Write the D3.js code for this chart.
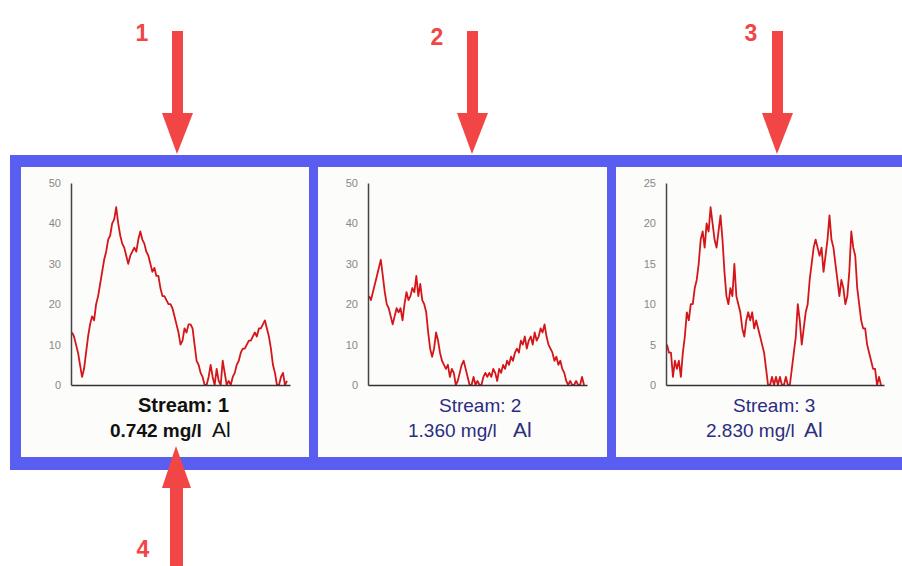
<!DOCTYPE html>
<html>
<head>
<meta charset="utf-8">
<script src="https://cdn.jsdelivr.net/npm/d3@7"></script>
<style>
  body { margin: 0; background: #fff; }
  svg { display: block; font-family: "Liberation Sans", Arial, sans-serif; }
</style>
</head>
<body>
<div id="viz"></div>
<script>
const width = 902;
const height = 566;

// Panel titles and readings
const streams = ['Stream: 1', 'Stream: 2', 'Stream: 3'];
const readings = ['0.742 mg/l', '1.360 mg/l', '2.830 mg/l'];
const yMax = [50, 50, 25];
const yTicks = [[0, 10, 20, 30, 40, 50], [0, 10, 20, 30, 40, 50], [0, 5, 10, 15, 20, 25]];
const arrowLabels = ['1', '2', '3', '4'];

// Traces
const stream1 = [13, 12, 10, 8, 5, 2, 4, 8, 12, 15, 17, 16, 20, 22, 25, 28, 31, 33, 36, 37,
  40, 41, 44, 40, 37, 35, 34, 32, 30, 32, 33, 34, 33, 36, 38, 36, 35, 33, 32, 30,
  28, 29, 27, 27, 24, 22, 22, 21, 20, 20, 19, 17, 15, 13, 10, 11, 14, 13, 15, 15,
  14, 10, 6, 5, 3, 2, 0, 0, 2, 5, 2, 0, 4, 1, 0, 6, 3, 0, 1, 0,
  2, 3, 5, 6, 8, 9, 9, 10, 11, 11, 12, 13, 12, 14, 14, 15, 16, 14, 12, 9,
  5, 3, 0, 0, 2, 3, 0, 1];
const stream2 = [22, 21, 23, 25, 27, 29, 31, 27, 23, 20, 19, 17, 15, 17, 19, 18, 19, 16, 20, 23,
  21, 22, 24, 23, 27, 22, 25, 21, 20, 18, 13, 9, 7, 9, 13, 11, 8, 6, 5, 4,
  5, 2, 4, 3, 0, 1, 3, 5, 6, 4, 2, 0, 0, 2, 0, 1, 0, 0, 2, 3,
  2, 3, 2, 4, 3, 1, 4, 3, 5, 4, 6, 5, 7, 6, 8, 9, 8, 11, 10, 12,
  9, 11, 12, 10, 13, 11, 12, 14, 13, 15, 12, 10, 9, 8, 6, 7, 5, 6, 4, 3,
  1, 0, 1, 0, 0, 1, 0, 0, 2, 0];
const stream3 = [5, 4, 4, 1, 3, 2, 3, 1, 4, 6, 9, 8, 10, 10, 12, 13, 15, 18, 19, 17,
  20, 19, 22, 20, 18, 17, 19, 21, 18, 14, 11, 10, 12, 11, 15, 11, 10, 9, 7, 6,
  8, 9, 8, 9, 7, 8, 7, 6, 5, 4, 2, 0, 0, 1, 0, 1, 0, 1, 0, 0,
  1, 0, 0, 2, 4, 6, 10, 8, 5, 7, 9, 10, 13, 15, 17, 18, 17, 16, 17, 14,
  16, 18, 21, 18, 17, 15, 13, 11, 13, 12, 10, 11, 14, 19, 17, 16, 12, 10, 8, 7,
  7, 5, 4, 3, 2, 2, 0, 1, 0];
const series = [stream1, stream2, stream3];

const blue = '#5a5ef0';
const red = '#f24545';
const lineRed = '#d4161a';

// panel layout: box, axis, caption start positions
const panels = [
  { x0: 21, x1: 309, axisX: 71, endX: 290, bold: true, color: '#111', sx: 138, rx: 110, ax: 212 },
  { x0: 318, x1: 607, axisX: 368, endX: 587, bold: false, color: '#2c2c80', sx: 439, rx: 408, ax: 513 },
  { x0: 616, x1: 910, axisX: 666, endX: 884, bold: false, color: '#2c2c80', sx: 733, rx: 706, ax: 804 }
];
const plotTop = 183;
const plotBottom = 385;

const svg = d3.select('#viz')
  .append('svg')
    .attr('width', width)
    .attr('height', height)
    .attr('viewBox', [0, 0, width, height]);

// blue frame
svg.append('rect')
  .attr('x', 10).attr('y', 155)
  .attr('width', 900).attr('height', 315)
  .attr('fill', blue);

panels.forEach((p, k) => {
  svg.append('rect')
    .attr('x', p.x0).attr('y', 167)
    .attr('width', p.x1 - p.x0).attr('height', 290)
    .attr('fill', '#fcfcfa');

  const data = series[k];
  const x = d3.scaleLinear()
    .domain([0, data.length - 1])
    .range([p.axisX + 1, p.endX - 3]);
  const y = d3.scaleLinear()
    .domain([0, yMax[k]])
    .range([plotBottom, plotTop]);

  const g = svg.append('g');

  // trace
  g.append('path')
    .datum(data)
    .attr('fill', 'none')
    .attr('stroke', lineRed)
    .attr('stroke-width', 1.8)
    .attr('stroke-linejoin', 'round')
    .attr('d', d3.line().x((d, i) => x(i)).y(d => y(d)));

  // y axis
  const yAxis = g.append('g')
    .attr('transform', `translate(${p.axisX},0)`)
    .call(d3.axisLeft(y).tickValues(yTicks[k]).tickSize(0).tickPadding(10).tickSizeOuter(0));
  yAxis.select('.domain').attr('stroke', '#444').attr('stroke-width', 1.5);
  yAxis.selectAll('text')
    .attr('fill', '#888')
    .style('font-size', '11px')
    .style('font-family', '"Liberation Sans", Arial, sans-serif');

  // x axis (line only)
  const xAxis = g.append('g')
    .attr('transform', `translate(0,${plotBottom})`)
    .call(d3.axisBottom(d3.scaleLinear().range([p.axisX, p.endX])).tickValues([]).tickSizeOuter(0));
  xAxis.select('.domain').attr('stroke', '#333').attr('stroke-width', 1.5);

  // captions
  svg.append('text')
    .attr('x', p.sx).attr('y', 412)
    .attr('fill', p.color)
    .style('font-size', p.bold ? '20px' : '19px')
    .style('font-weight', p.bold ? 'bold' : 'normal')
    .text(streams[k]);
  svg.append('text')
    .attr('x', p.rx).attr('y', 437)
    .attr('fill', p.color)
    .style('font-size', p.bold ? '19px' : '19px')
    .style('font-weight', p.bold ? 'bold' : 'normal')
    .text(readings[k]);
  svg.append('text')
    .attr('x', p.ax).attr('y', 437)
    .attr('fill', p.color)
    .style('font-size', '21px')
    .text('Al');
});

// arrows
const arrowsDown = [
  { x: 177, label: 1, lx: 142, ly: 41 },
  { x: 472, label: 2, lx: 437, ly: 45 },
  { x: 777, label: 3, lx: 751, ly: 41 }
];
arrowsDown.forEach(a => {
  svg.append('rect')
    .attr('x', a.x - 5).attr('y', 31).attr('width', 11).attr('height', 88)
    .attr('fill', red);
  svg.append('path')
    .attr('d', `M${a.x - 15},113 L${a.x + 16},113 L${a.x},154 Z`)
    .attr('fill', red);
  svg.append('text')
    .attr('x', a.lx).attr('y', a.ly)
    .attr('text-anchor', 'middle')
    .attr('fill', red)
    .style('font-size', '23px')
    .style('font-weight', 'bold')
    .text(arrowLabels[a.label - 1]);
});

// arrow 4 from below
svg.append('rect')
  .attr('x', 170).attr('y', 480).attr('width', 13).attr('height', 90)
  .attr('fill', red);
svg.append('path')
  .attr('d', 'M162,488 L191,488 L176,446 Z')
  .attr('fill', red);
svg.append('text')
  .attr('x', 143).attr('y', 557)
  .attr('text-anchor', 'middle')
  .attr('fill', red)
  .style('font-size', '23px')
  .style('font-weight', 'bold')
  .text(arrowLabels[3]);
</script>
</body>
</html>
